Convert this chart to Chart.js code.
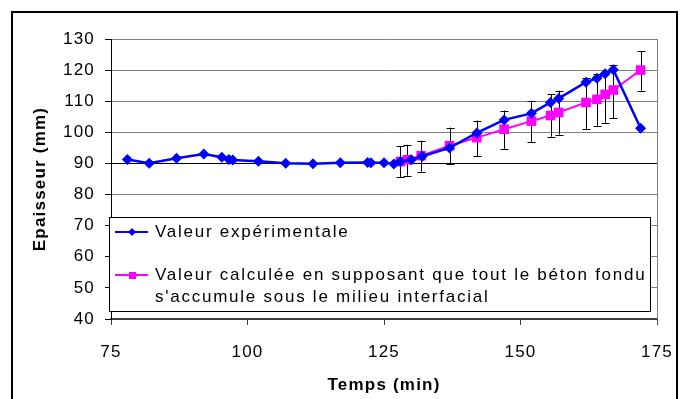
<!DOCTYPE html>
<html>
<head>
<meta charset="utf-8">
<script src="https://cdn.jsdelivr.net/npm/chart.js@4.4.1/dist/chart.umd.min.js"></script>
<style>
  body { margin: 0; background: #fff; }
  #wrap { width: 691px; height: 399px; }
</style>
</head>
<body>
<div id="wrap"><canvas id="chart" width="691" height="399"></canvas></div>
<script>
// ================= DONNÉES =================
const xTicks = [75, 100, 125, 150, 175];
const yTicks = [40, 50, 60, 70, 80, 90, 100, 110, 120, 130];

// Valeur expérimentale
const expTemps = [78, 82, 87, 92, 95.3, 96.6, 97.3, 102, 107, 112, 117, 122, 122.6, 125, 126.8,
                  128, 130, 132, 137, 142, 147, 152, 155.5, 157, 162, 164, 165.5, 167, 172];
const expEpaisseur = [91.3, 90.1, 91.7, 93.0, 92.0, 91.3, 91.1, 90.7, 90.1, 89.9, 90.2, 90.3, 90.2, 90.2, 89.8,
                      90.6, 91.2, 92.3, 95.0, 99.8, 104.0, 106.1, 109.6, 110.9, 116.1, 117.4, 118.8, 120.1, 101.3];

// Valeur calculée (+ barres d'erreur)
const calcTemps = [128, 129.3, 131.8, 137, 142, 147, 152, 155.5, 157, 162, 164, 165.5, 167, 172];
const calcEpaisseur = [90.6, 91.2, 92.5, 95.7, 98.3, 101.0, 103.6, 105.4, 106.4, 109.6, 110.6, 112.2, 113.6, 120.0];
const calcMin = [85.6, 86.1, 87.4, 89.9, 92.4, 94.7, 96.8, 98.6, 99.3, 101.1, 102.1, 103.1, 104.5, 113.4];
const calcMax = [95.6, 96.0, 97.3, 101.5, 103.8, 107.0, 110.2, 112.3, 113.4, 117.6, 118.7, 119.5, 121.7, 126.0];

const legendLabels = [
    ['Valeur expérimentale'],
    ['Valeur calculée en supposant que tout le béton fondu', "s'accumule sous le milieu interfacial"]
];

const BLUE = '#0000ff';
const PINK = '#ff00ff';
const FONT = '"Liberation Sans", Arial, sans-serif';

// ================= PLUGINS =================
const cadrePlugin = {
    id: 'cadre',
    beforeDraw(chart) {
        const ctx = chart.ctx;
        ctx.save();
        ctx.fillStyle = '#fff';
        ctx.fillRect(0, 0, chart.width, chart.height);
        ctx.strokeStyle = '#000';
        ctx.lineWidth = 2;
        ctx.strokeRect(12, 12, 665, 400);
        ctx.restore();
        chart.ctx.letterSpacing = '1.2px';
    },
    beforeDatasetsDraw(chart) {
        const { ctx, chartArea: a } = chart;
        ctx.save();
        ctx.strokeStyle = '#808080';
        ctx.lineWidth = 1;
        ctx.beginPath();
        ctx.moveTo(a.right + 0.5, a.top);
        ctx.lineTo(a.right + 0.5, a.bottom);
        ctx.stroke();
        ctx.restore();
    }
};

const erreurPlugin = {
    id: 'erreur',
    beforeDatasetsDraw(chart) {
        const ctx = chart.ctx;
        const xs = chart.scales.x, ys = chart.scales.y;
        ctx.save();
        ctx.strokeStyle = '#000';
        ctx.lineWidth = 1;
        calcTemps.forEach((t, i) => {
            const px = Math.round(xs.getPixelForValue(t)) + 0.5;
            const y1 = ys.getPixelForValue(calcMin[i]);
            const y2 = ys.getPixelForValue(calcMax[i]);
            ctx.beginPath();
            ctx.moveTo(px, y1); ctx.lineTo(px, y2);
            ctx.moveTo(px - 4, Math.round(y1) + 0.5); ctx.lineTo(px + 4, Math.round(y1) + 0.5);
            ctx.moveTo(px - 4, Math.round(y2) + 0.5); ctx.lineTo(px + 4, Math.round(y2) + 0.5);
            ctx.stroke();
        });
        ctx.restore();
    }
};

const legendePlugin = {
    id: 'legende',
    afterDraw(chart) {
        const ctx = chart.ctx;
        const bx = 109, by = 217, bw = 541, bh = 94;
        ctx.save();
        ctx.fillStyle = '#fff';
        ctx.fillRect(bx, by, bw, bh);
        ctx.strokeStyle = '#000';
        ctx.lineWidth = 1;
        ctx.strokeRect(bx + 0.5, by + 0.5, bw, bh);

        const rows = [232, 275];
        const colors = [BLUE, PINK];
        rows.forEach((y, i) => {
            ctx.strokeStyle = colors[i];
            ctx.fillStyle = colors[i];
            ctx.lineWidth = 2;
            ctx.beginPath();
            ctx.moveTo(115, y); ctx.lineTo(148, y);
            ctx.stroke();
            ctx.beginPath();
            if (i === 0) {
                ctx.moveTo(132 - 4, y); ctx.lineTo(132, y - 4);
                ctx.lineTo(132 + 4, y); ctx.lineTo(132, y + 4);
                ctx.closePath();
            } else {
                ctx.rect(129, y - 3, 7, 7);
            }
            ctx.fill();
        });

        ctx.fillStyle = '#000';
        ctx.font = '17px ' + FONT;
        ctx.letterSpacing = '1.75px';
        ctx.textBaseline = 'middle';
        ctx.textAlign = 'left';
        ctx.fillText(legendLabels[0][0], 155, 232);
        ctx.fillText(legendLabels[1][0], 155, 275);
        ctx.fillText(legendLabels[1][1], 155, 297);
        ctx.restore();
    }
};

// ================= GRAPHIQUE =================
const ctx = document.getElementById('chart');
new Chart(ctx, {
    type: 'line',
    data: {
        datasets: [{
            label: legendLabels[0][0],
            data: expTemps.map((t, i) => ({ x: t, y: expEpaisseur[i] })),
            borderColor: BLUE,
            backgroundColor: BLUE,
            borderWidth: 2.5,
            pointStyle: 'rectRot',
            pointRadius: 5.5,
            pointBorderWidth: 0,
            tension: 0
        }, {
            label: legendLabels[1].join(' '),
            data: calcTemps.map((t, i) => ({ x: t, y: calcEpaisseur[i] })),
            borderColor: PINK,
            backgroundColor: PINK,
            borderWidth: 2,
            pointStyle: 'rect',
            pointRadius: 6.8,
            pointBorderWidth: 0,
            tension: 0
        }]
    },
    options: {
        responsive: false,
        animation: false,
        layout: { padding: { top: 39, right: 34, left: 0, bottom: 0 } },
        plugins: {
            legend: { display: false },
            tooltip: { enabled: false }
        },
        scales: {
            x: {
                type: 'linear',
                min: 75, max: 175,
                afterFit: s => { s.height = 80; },
                afterBuildTicks: s => { s.ticks = xTicks.map(v => ({ value: v })); },
                ticks: { color: '#000', padding: 17, font: { family: FONT, size: 17 } },
                grid: { drawOnChartArea: false, tickLength: 6, tickColor: '#404040' },
                border: { color: '#404040', width: 2 },
                title: {
                    display: true, text: 'Temps (min)', color: '#000',
                    font: { family: FONT, size: 17, weight: 'bold' },
                    padding: { top: 0, bottom: 3 }
                }
            },
            y: {
                type: 'linear',
                min: 40, max: 130,
                afterFit: s => { s.width = 111; },
                afterBuildTicks: s => { s.ticks = yTicks.map(v => ({ value: v })); },
                ticks: { color: '#000', padding: 10, font: { family: FONT, size: 17 } },
                grid: {
                    color: c => (c.tick && c.tick.value === 90 ? '#000' : '#808080'),
                    tickLength: 6, tickColor: '#000'
                },
                border: { color: '#000', width: 1 },
                title: {
                    display: true, text: 'Epaisseur (mm)', color: '#000',
                    font: { family: FONT, size: 17, weight: 'bold' },
                    padding: { top: 30, bottom: 0 }
                }
            }
        }
    },
    plugins: [cadrePlugin, erreurPlugin, legendePlugin]
});
</script>
</body>
</html>
